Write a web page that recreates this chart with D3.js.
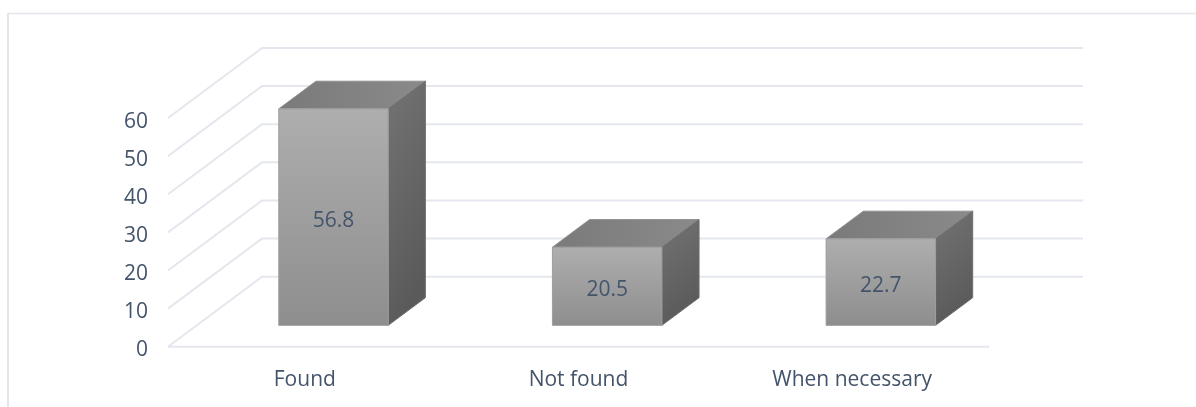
<!DOCTYPE html>
<html><head><meta charset="utf-8">
<script src="https://cdn.jsdelivr.net/npm/d3@7"></script>
<style>html,body{margin:0;padding:0;background:#fff}svg{display:block}text{font-family:"Open Sans",sans-serif;fill:#44546a}#plot{filter:blur(.35px)}</style>
</head><body><div id="c"></div>
<script>
const categories=["Found","Not found","When necessary"];
const values=[56.8,20.5,22.7];
const valueLabels=["56.8","20.5","22.7"];
const yTicks=[0,10,20,30,40,50,60];

const W=1196,H=407;
const root=d3.select("#c").append("svg").attr("width",W).attr("height",H);
const svg=root.append("g").attr("id","plot");
const x=d3.scaleBand().domain(categories).range([168,989]).paddingInner(.6).paddingOuter(.3);
const y=d3.scaleLinear().domain([0,60]).range([346.7,118]);
const depth=d3.scaleLinear().domain([0,1]);
const dx=depth.copy().range([0,94]), dy=depth.copy().range([0,-70]);
const P=(px,v,d)=>[px+dx(d),y(v)+dy(d)];
const line=d3.line();
const d0=.305,d1=.70;

const defs=root.append("defs");
function grad(id,x2,y2,a,b){const g=defs.append("linearGradient").attr("id",id).attr("x1",0).attr("y1",0).attr("x2",x2).attr("y2",y2);
 g.append("stop").attr("offset",0).attr("stop-color",a);g.append("stop").attr("offset",1).attr("stop-color",b);}
grad("front",0,1,"#aeaeae","#8e8e8e");
grad("side",.3,1,"#737373","#5a5a5a");
grad("top",1,0,"#7a7a7a","#8a8a8a");

// chart frame
svg.append("path").attr("d",line([[8,407],[8,13]])).attr("fill","none").attr("stroke","#e2e6ec").attr("stroke-width",2);
svg.append("path").attr("d",line([[8,13.5],[1196,13.5]])).attr("fill","none").attr("stroke","#e2e6ec").attr("stroke-width",1.3);

// gridlines
const grid=svg.append("g").attr("fill","none").attr("stroke","#e4e7ee").attr("stroke-width",2);
yTicks.forEach(t=>{
 grid.append("path").attr("d",line([P(x.range()[0],t,0),P(x.range()[0],t,1),P(x.range()[1],t,1)]));
});
grid.append("path").attr("d",line([P(x.range()[0],0,0),P(x.range()[1],0,0)]));

// axis labels
const fs=21;
svg.append("g").selectAll("text").data(yTicks).join("text").attr("x",148).attr("y",d=>y(d)+9.6).attr("text-anchor","end")
 .attr("font-size",fs).text(d=>d);
svg.append("g").selectAll("text").data(categories).join("text").attr("x",d=>x(d)+x.bandwidth()/2).attr("y",386)
 .attr("text-anchor","middle").attr("font-size",fs).text(d=>d);

// bars
const bars=svg.append("g").selectAll("g").data(categories).join("g");
bars.each(function(c,i){
 const g=d3.select(this),v=values[i],l=x(c),r=l+x.bandwidth();
 const poly=(pts,f,s)=>g.append("path").attr("d",line(pts)+"Z").attr("fill",f).attr("stroke",s).attr("stroke-width",1);
 poly([P(l,v,d0),P(r,v,d0),P(r,v,d1),P(l,v,d1)],"url(#top)","#919191");
 poly([P(r,0,d0),P(r,v,d0),P(r,v,d1),P(r,0,d1)],"url(#side)","#6e6e6e");
 poly([P(l,0,d0),P(r,0,d0),P(r,v,d0),P(l,v,d0)],"url(#front)","#9e9e9e");
 const a=P(l,v/2,d0);
 g.append("text").attr("x",a[0]+x.bandwidth()/2).attr("y",a[1]+10).attr("text-anchor","middle")
  .attr("font-size",fs).text(valueLabels[i]);
});
</script></body></html>
